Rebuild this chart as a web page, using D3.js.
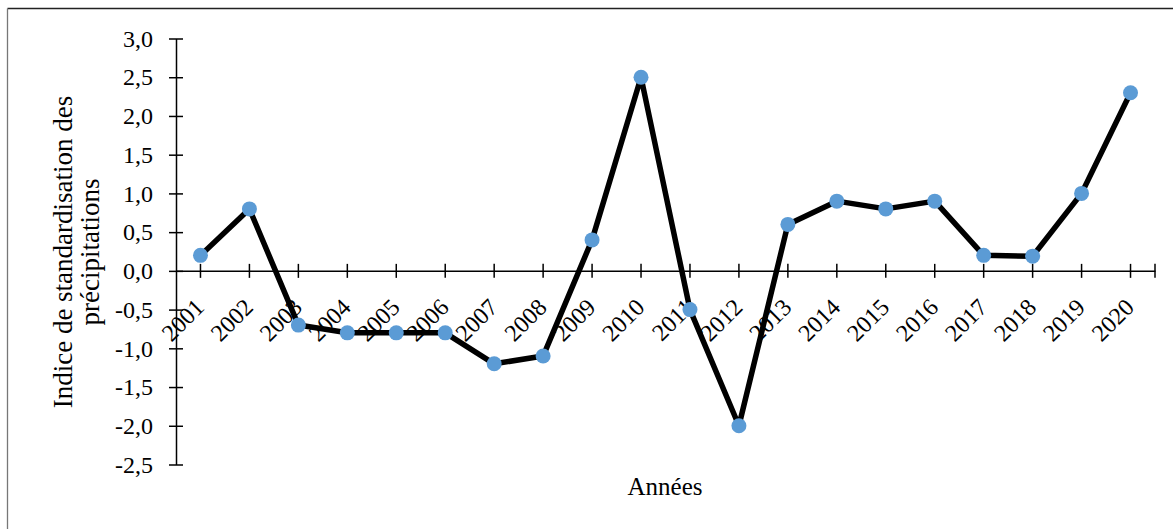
<!DOCTYPE html>
<html>
<head>
<meta charset="utf-8">
<script src="https://cdn.jsdelivr.net/npm/d3@7"></script>
<style>
  body { margin: 0; background: #fff; }
  svg { display: block; }
  svg text { font-family: "Liberation Serif", "Times New Roman", serif; fill: #000; }
</style>
</head>
<body>
<svg id="chart" width="1173" height="529"></svg>
<script>
// annees et indice standardise des precipitations
const years = ['2001', '2002', '2003', '2004', '2005', '2006', '2007', '2008', '2009', '2010',
    '2011', '2012', '2013', '2014', '2015', '2016', '2017', '2018', '2019', '2020'];
const ispValues = [0.2, 0.8, -0.7, -0.8, -0.8, -0.8, -1.2, -1.1, 0.4, 2.5,
    -0.5, -2.0, 0.6, 0.9, 0.8, 0.9, 0.2, 0.19, 1.0, 2.3];
const yTicks = [3.0, 2.5, 2.0, 1.5, 1.0, 0.5, 0.0, -0.5, -1.0, -1.5, -2.0, -2.5];

const svg = d3.select('#chart');
const fmt = function(v) {
    return d3.format('.1f')(v).replace('.', ',').replace('−', '-');
};

const x = d3.scaleBand().domain(years).range([176, 1155]);
const y = d3.scaleLinear().domain([-2.5, 3.0]).range([464.5, 38.5]);
const cx = function(d) { return x(d) + x.bandwidth() / 2; };

// cadre
svg.append('line').attr('x1', 7.5).attr('x2', 1173).attr('y1', 8.5).attr('y2', 8.5)
    .attr('stroke', '#222').attr('stroke-width', 1.3);
svg.append('line').attr('x1', 7.5).attr('x2', 7.5).attr('y1', 8.5).attr('y2', 529)
    .attr('stroke', '#777').attr('stroke-width', 1.3);

// axe Y
const yAxis = svg.append('g')
    .attr('transform', 'translate(' + x.range()[0] + ',0)')
    .call(d3.axisLeft(y).tickValues(yTicks).tickFormat(fmt).tickSize(0).tickPadding(23));
yAxis.attr('font-family', null).attr('font-size', null);
yAxis.select('.domain').attr('stroke', '#000').attr('stroke-width', 1.5);
yAxis.selectAll('.tick line').attr('x1', -7).attr('x2', 7)
    .attr('stroke', '#000').attr('stroke-width', 1.5);
yAxis.selectAll('.tick text').style('font-size', '24px');

// axe X (a y = 0)
const xAxis = svg.append('g')
    .attr('transform', 'translate(0,' + y(0) + ')')
    .call(d3.axisBottom(x).tickSize(0).tickFormat(''));
xAxis.select('.domain').attr('stroke', '#000').attr('stroke-width', 1.5);
xAxis.selectAll('.tick line').attr('y1', -7).attr('y2', 7)
    .attr('stroke', '#000').attr('stroke-width', 1.5);
xAxis.append('line')
    .attr('x1', x.range()[1]).attr('x2', x.range()[1])
    .attr('y1', -7).attr('y2', 7)
    .attr('stroke', '#000').attr('stroke-width', 1.5);

svg.append('g').selectAll('text')
    .data(years).enter().append('text')
    .attr('transform', function(d) {
        return 'translate(' + (cx(d) + 5) + ',' + (y(0) + 38) + ') rotate(-45)';
    })
    .attr('text-anchor', 'end')
    .style('font-size', '24px')
    .text(function(d) { return d; });

// courbe
const line = d3.line()
    .x(function(d, i) { return cx(years[i]); })
    .y(function(d) { return y(d); });

svg.append('path')
    .datum(ispValues)
    .attr('d', line)
    .attr('fill', 'none')
    .attr('stroke', '#000')
    .attr('stroke-width', 5.5)
    .attr('stroke-linejoin', 'round');

svg.append('g').selectAll('circle')
    .data(ispValues).enter().append('circle')
    .attr('cx', function(d, i) { return cx(years[i]); })
    .attr('cy', function(d) { return y(d); })
    .attr('r', 7.5)
    .attr('fill', '#5B9BD5');

// titres des axes
svg.append('text')
    .attr('x', 665).attr('y', 495)
    .attr('text-anchor', 'middle')
    .style('font-size', '25px')
    .text('Années');

const yTitle = svg.append('text')
    .attr('transform', 'translate(72,252) rotate(-90)')
    .attr('text-anchor', 'middle')
    .style('font-size', '27px');
yTitle.append('tspan').attr('x', 0).attr('dy', 0).text('Indice de standardisation des');
yTitle.append('tspan').attr('x', 0).attr('dy', 27).text('précipitations');
</script>
</body>
</html>
